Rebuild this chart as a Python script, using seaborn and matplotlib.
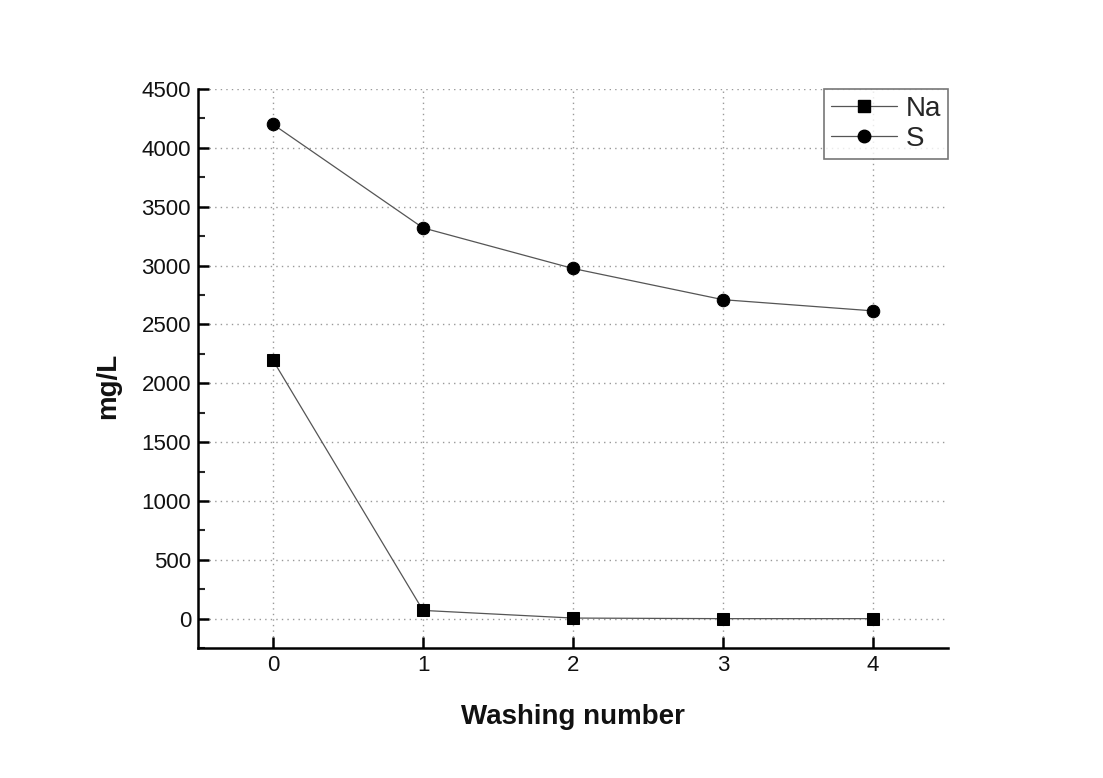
import matplotlib
matplotlib.use("Agg")
import matplotlib.pyplot as plt
import seaborn as sns
import pandas as pd
from matplotlib.ticker import MultipleLocator
from matplotlib.lines import Line2D

washing = [0, 1, 2, 3, 4]
na_values = [2195, 70, 5, 0, 0]
s_values = [4200, 3320, 2975, 2710, 2615]

df = pd.DataFrame({
    "Washing number": washing * 2,
    "mg/L": na_values + s_values,
    "element": ["Na"] * 5 + ["S"] * 5,
})

sns.set_style("ticks")
plt.rcParams["font.family"] = ["Liberation Sans", "DejaVu Sans"]

fig = plt.figure(figsize=(11.03, 7.78), dpi=100)
ax = fig.add_axes([0.1795, 0.167, 0.68, 0.7186])

sns.lineplot(data=df, x="Washing number", y="mg/L", hue="element", style="element",
             markers={"Na": "s", "S": "o"}, dashes=False,
             palette={"Na": "#555555", "S": "#555555"}, linewidth=0.9,
             markersize=9, markerfacecolor="black", markeredgecolor="black",
             ax=ax, legend=False)

ax.set_xlim(-0.5, 4.5)
ax.set_ylim(-250, 4500)
ax.xaxis.set_major_locator(MultipleLocator(1))
ax.yaxis.set_major_locator(MultipleLocator(500))
ax.yaxis.set_minor_locator(MultipleLocator(250))
ax.grid(True, which="major", linestyle=(0, (1, 3)), color="#999999", linewidth=1)
ax.set_axisbelow(True)

for side in ["top", "right"]:
    ax.spines[side].set_visible(False)
for side in ["left", "bottom"]:
    ax.spines[side].set_linewidth(1.8)
    ax.spines[side].set_color("black")

ax.tick_params(axis="both", which="major", direction="in", length=8, width=1.8,
               labelsize=16, pad=5, colors="black", labelcolor="#111111")
ax.tick_params(axis="y", which="minor", direction="in", length=5, width=1.5)

ax.set_xlabel("Washing number", fontsize=20, fontweight="bold", labelpad=20, color="#111111")
ax.set_ylabel("mg/L", fontsize=20, fontweight="bold", color="#111111")
ax.yaxis.set_label_coords(-0.103, 0.469)

handles = [
    Line2D([], [], color="#555555", lw=0.9, marker="s", ms=8, mfc="black", mec="black"),
    Line2D([], [], color="#555555", lw=0.9, marker="o", ms=9, mfc="black", mec="black"),
]
leg = ax.legend(handles, ["Na", "S"], loc="upper right", bbox_to_anchor=(1.0, 1.0),
                fontsize=20, frameon=True, fancybox=False, edgecolor="#555555",
                handlelength=2.4, handletextpad=0.3, borderpad=0.25, labelspacing=0.15,
                borderaxespad=0.0)
leg.get_frame().set_linewidth(1.2)

fig.savefig("out.png", dpi=100, facecolor="white")
